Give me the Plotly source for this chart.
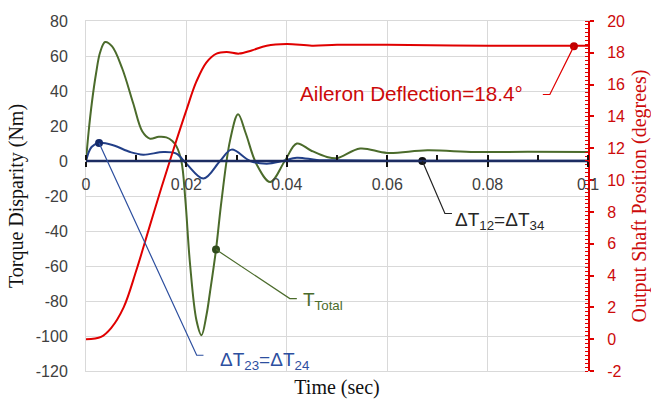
import plotly.graph_objects as go

# ---------------- data ----------------
time_red = [0, 0.003, 0.005, 0.0075, 0.010, 0.0125, 0.015, 0.0175, 0.020, 0.022, 0.024,
            0.026, 0.028, 0.0305, 0.033, 0.036, 0.040, 0.045, 0.050, 0.060, 0.080, 0.1]
deflection = [0, 0.15, 0.7, 2.0, 4.3, 6.9, 9.5, 12.0, 14.4, 16.2, 17.4,
              17.95, 18.05, 17.95, 18.15, 18.45, 18.55, 18.45, 18.5, 18.5, 18.45, 18.45]

time_total = [0, 0.0005, 0.0012, 0.002, 0.0028, 0.0038, 0.0052, 0.0072, 0.0094, 0.0112, 0.0127,
              0.0145, 0.016, 0.0172, 0.018, 0.019, 0.0198, 0.0207, 0.022, 0.023, 0.024,
              0.0247, 0.0259, 0.027, 0.0287, 0.0303, 0.0318, 0.034, 0.0367, 0.0396, 0.042,
              0.0448, 0.048, 0.050, 0.0546, 0.060, 0.068, 0.0775, 0.088, 0.1]
torque_total = [0, 16, 34, 50, 62, 68, 65.5, 53, 33, 17, 12.8,
                13.8, 13.5, 11.5, 8.5, 0, -22.5, -58, -91, -99.6, -88,
                -75, -50.6, -22.5, 11.8, 26.7, 16, -2, -12, 0, 10,
                6, 2.3, 1.6, 7.1, 4.6, 6.1, 5.1, 5.3, 5.1]

time_23 = [0, 0.0011, 0.0026, 0.0054, 0.0088, 0.0114, 0.0154, 0.018, 0.02, 0.0234, 0.0267,
           0.029, 0.0327, 0.036, 0.0392, 0.042, 0.046, 0.05, 0.06, 0.08, 0.1]
torque_23 = [0, 8, 10.3, 9, 5.1, 3.6, 5.1, 4.2, -1.5, -10, 0,
             6.5, 0, -1.5, 0, 1.9, 0.6, 0.4, 0.2, 0.1, 0.1]

time_12 = [0, 0.1]
torque_12 = [0, 0]

# callout anchor points (on the curves)
marker_red = (0.0972, 18.42)
marker_total = (0.0259, -50.6)
marker_23 = (0.0026, 10.3)
marker_12 = (0.067, 0)

left_ticks = [-120, -100, -80, -60, -40, -20, 0, 20, 40, 60, 80]
left_ticktext = ["-120", "-100", "-80", "-60", "-40", "-20", "0", "20", "40", "60", "80"]
right_ticks = [-2, 0, 2, 4, 6, 8, 10, 12, 14, 16, 18, 20]
right_ticktext = ["-2", "0", "2", "4", "6", "8", "10", "12", "14", "16", "18", "20"]

RED = "#e00000"
RED_TXT = "#cc0a0a"
GREEN = "#4b6b2b"
BLUE = "#223f88"
NAVY = "#1c2c62"
SANS = "Liberation Sans, Arial, sans-serif"
SERIF = "Liberation Serif, Times New Roman, serif"

fig = go.Figure()

fig.add_trace(go.Scatter(x=time_red, y=deflection, yaxis="y2", mode="lines",
                         line=dict(color=RED, width=2, shape="spline", smoothing=1),
                         hoverinfo="skip", showlegend=False))
fig.add_trace(go.Scatter(x=time_total, y=torque_total, mode="lines",
                         line=dict(color=GREEN, width=2, shape="spline", smoothing=1),
                         hoverinfo="skip", showlegend=False))
fig.add_trace(go.Scatter(x=time_23, y=torque_23, mode="lines",
                         line=dict(color=BLUE, width=2, shape="spline", smoothing=1),
                         hoverinfo="skip", showlegend=False))
fig.add_trace(go.Scatter(x=time_12, y=torque_12, xaxis="x2", mode="lines",
                         line=dict(color=NAVY, width=2.5),
                         hoverinfo="skip", showlegend=False))

# markers
fig.add_trace(go.Scatter(x=[marker_red[0]], y=[marker_red[1]], yaxis="y2", mode="markers",
                         marker=dict(color="#c00000", size=8), showlegend=False, hoverinfo="skip"))
fig.add_trace(go.Scatter(x=[marker_total[0]], y=[marker_total[1]], mode="markers",
                         marker=dict(color="#2f4a1c", size=8), showlegend=False, hoverinfo="skip"))
fig.add_trace(go.Scatter(x=[marker_23[0]], y=[marker_23[1]], mode="markers",
                         marker=dict(color="#142a6a", size=8), showlegend=False, hoverinfo="skip"))
fig.add_trace(go.Scatter(x=[marker_12[0]], y=[marker_12[1]], mode="markers",
                         marker=dict(color="#111111", size=8), showlegend=False, hoverinfo="skip"))

# leader lines (elbow connectors)
def leader(p0, p1, p2, color, yref="y"):
    return dict(type="path", xref="x", yref=yref,
                path=f"M {p0[0]},{p0[1]} L {p1[0]},{p1[1]} L {p2[0]},{p2[1]}",
                line=dict(color=color, width=1.2), layer="above")

shapes = [
    leader(marker_red, (0.0924, 15.38), (0.0910, 15.38), RED, "y2"),
    leader(marker_12, (0.0715, -30), (0.0729, -30), "#222222"),
    leader(marker_total, (0.0406, -78.6), (0.0420, -78.6), GREEN),
    leader(marker_23, (0.02205, -111), (0.0234, -111), "#2d4f9f"),
]

annotations = [
    dict(x=0.0874, y=15.45, xref="x", yref="y2", xanchor="right", yanchor="middle",
         text="Aileron Deflection=18.4°", showarrow=False,
         font=dict(family=SANS, size=20.7, color=RED_TXT)),
    dict(x=0.0731, y=-34, xref="x", yref="y", xanchor="left", yanchor="middle",
         text="ΔT<sub>12</sub>=ΔT<sub>34</sub>", showarrow=False,
         font=dict(family=SANS, size=19, color="#262626")),
    dict(x=0.0428, y=-80, xref="x", yref="y", xanchor="left", yanchor="middle",
         text="T<sub>Total</sub>", showarrow=False,
         font=dict(family=SANS, size=19, color=GREEN)),
    dict(x=0.0263, y=-114.5, xref="x", yref="y", xanchor="left", yanchor="middle",
         text="ΔT<sub>23</sub>=ΔT<sub>24</sub>", showarrow=False,
         font=dict(family=SANS, size=19, color="#2d4f9f")),
]

fig.update_layout(
    width=651, height=399,
    margin=dict(l=86, r=63, t=21, b=28, pad=0, autoexpand=False),
    plot_bgcolor="white", paper_bgcolor="white",
    showlegend=False,
    shapes=shapes, annotations=annotations,
    xaxis=dict(range=[0, 0.1], dtick=0.02, showgrid=True, gridcolor="#d9d9d9", gridwidth=1,
               showticklabels=False, ticks="", zeroline=False, automargin=False,
               showline=True, linecolor="#d9d9d9", linewidth=1, mirror=True,
               title=dict(text="Time (sec)", standoff=9,
                          font=dict(family=SERIF, size=20, color="#111111"))),
    xaxis2=dict(range=[0, 0.1], overlaying="x", anchor="free", position=0.6, side="bottom",
                showgrid=False, zeroline=False, dtick=0.02, automargin=False,
                ticks="outside", ticklen=5, tickwidth=1.5, tickcolor="#111111",
                minor=dict(dtick=0.01, ticks="inside", ticklen=5, tickwidth=1.5,
                           tickcolor="#111111", showgrid=False),
                showline=True, linecolor=NAVY, linewidth=2,
                ticklabelstandoff=4,
                tickfont=dict(family=SANS, size=16, color="#404040")),
    yaxis=dict(range=[-120, 80], tickvals=left_ticks, ticktext=left_ticktext,
               showgrid=True, gridcolor="#d9d9d9", gridwidth=1, zeroline=False,
               showline=True, linecolor="#d9d9d9", linewidth=1, ticks="",
               automargin=False, ticklabelstandoff=14,
               tickfont=dict(family=SANS, size=16, color="#404040"),
               title=dict(text="Torque Disparity (Nm)", standoff=6,
                          font=dict(family=SERIF, size=20, color="#111111"))),
    yaxis2=dict(range=[-2, 20], overlaying="y", side="right", anchor="x",
                tickvals=right_ticks, ticktext=right_ticktext,
                showgrid=False, zeroline=False, automargin=False,
                showline=True, linecolor=RED, linewidth=2,
                ticks="outside", ticklen=4, tickwidth=2, tickcolor=RED,
                minor=dict(dtick=0.25, ticks="inside", ticklen=3, tickwidth=1,
                           tickcolor=RED, showgrid=False),
                ticklabelstandoff=10,
                tickfont=dict(family=SANS, size=16, color=RED_TXT),
                title=dict(text="Output Shaft Position (degrees)", standoff=8,
                           font=dict(family=SERIF, size=20, color=RED_TXT))),
)

fig.write_html("out.html")
